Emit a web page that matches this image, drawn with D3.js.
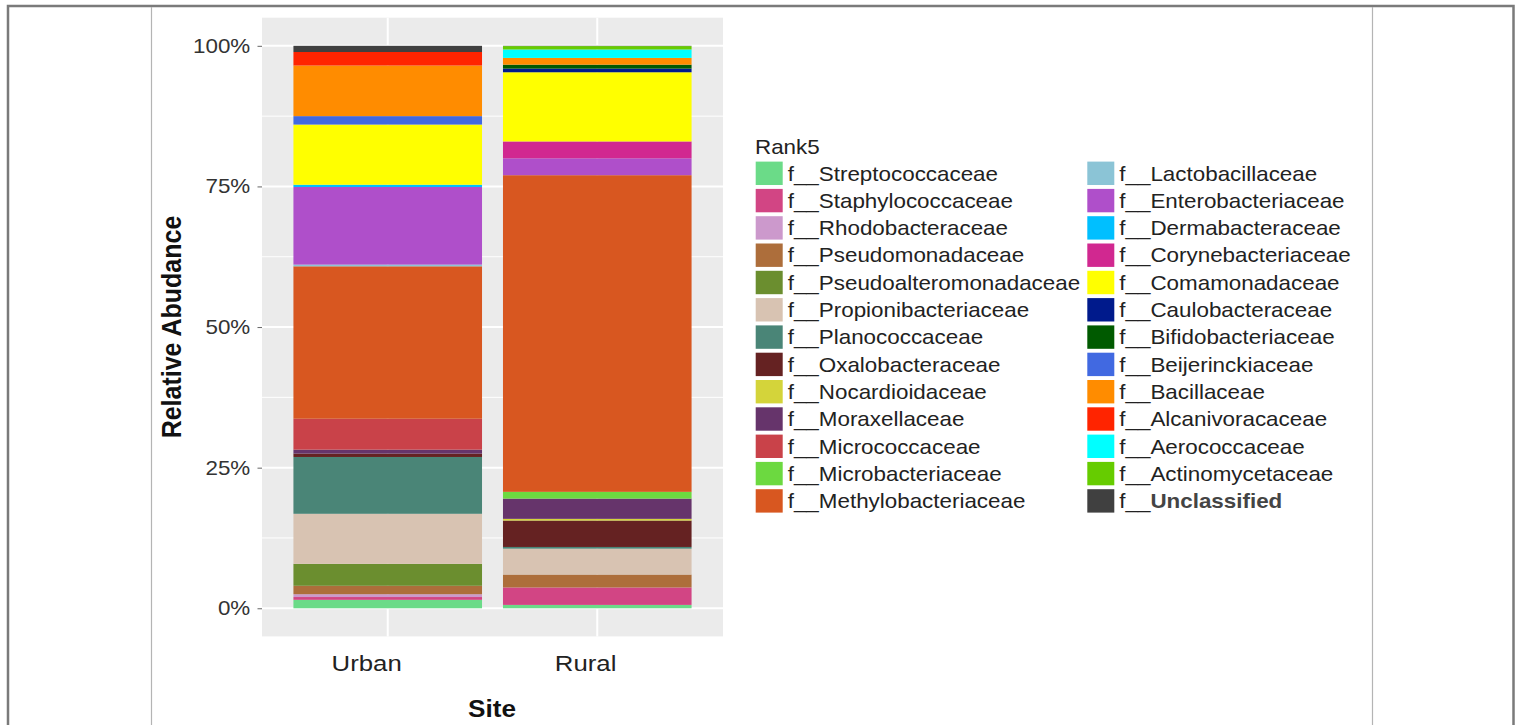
<!DOCTYPE html>
<html>
<head>
<meta charset="utf-8">
<script src="https://cdn.jsdelivr.net/npm/d3@7"></script>
<style>
  html, body { margin: 0; padding: 0; background: #fff; }
  svg { display: block; font-family: "Liberation Sans", Arial, sans-serif; }
</style>
</head>
<body>
<script>
// values, percent of each site, bottom to top
const families = [
  "Streptococcaceae", "Staphylococcaceae", "Rhodobacteraceae", "Pseudomonadaceae",
  "Pseudoalteromonadaceae", "Propionibacteriaceae", "Planococcaceae", "Oxalobacteraceae",
  "Nocardioidaceae", "Moraxellaceae", "Micrococcaceae", "Microbacteriaceae",
  "Methylobacteriaceae", "Lactobacillaceae", "Enterobacteriaceae", "Dermabacteraceae",
  "Corynebacteriaceae", "Comamonadaceae", "Caulobacteraceae", "Bifidobacteriaceae",
  "Beijerinckiaceae", "Bacillaceae", "Alcanivoracaceae", "Aerococcaceae",
  "Actinomycetaceae", "Unclassified"
];
const familyColors = [
  "#6bdb88", "#d24584", "#cc99cc", "#ad6e3b",
  "#6b8e2f", "#d8c3b2", "#4a8577", "#652222",
  "#d4d43a", "#66346b", "#c94249", "#6cd940",
  "#d85720", "#8bc4d6", "#af4fca", "#00bfff",
  "#d12890", "#ffff00", "#001a8c", "#005a00",
  "#4169e1", "#ff8c00", "#ff2400", "#00ffff",
  "#66cc00", "#404040"
];
const sites = ["Urban", "Rural"];
const urbanValues = [
  1.5, 0.5, 0.5, 1.5, 3.9, 8.9, 10.1, 0.6, 0, 0.7, 5.5, 0,
  27.1, 0.3, 13.8, 0.4, 0, 10.7, 0, 0, 1.5, 9.0, 2.4, 0, 0, 1.1
];
const ruralValues = [
  0.6, 3.1, 0, 2.3, 0, 4.6, 0.3, 4.7, 0.3, 3.6, 0, 1.2,
  56.3, 0, 3.0, 0, 3.0, 12.3, 0.65, 0.7, 0, 1.2, 0, 1.5, 0.6, 0.05
];
const yTicks = [0, 0.25, 0.5, 0.75, 1];
const yMinor = [0.125, 0.375, 0.625, 0.875];

const W = 1515, H = 725;
const panel = { left: 262, right: 723, top: 17.7, bottom: 636.4 };
const stretch = 1.12;   // the source picture is a bit wider than tall
const siteLabelShift = { Urban: -18.8, Rural: -10.4 };  // labels sit left of the bars in the source

const svg = d3.select("body").append("svg")
  .attr("width", W)
  .attr("height", H);

// page frame
svg.append("rect")
  .attr("x", 8).attr("y", 6)
  .attr("width", 1505.5).attr("height", H + 10)
  .attr("fill", "none")
  .attr("stroke", "#7a7a7a")
  .attr("stroke-width", 2.5);
[151.5, 1372.5].forEach(x => {
  svg.append("line")
    .attr("x1", x).attr("x2", x)
    .attr("y1", 7).attr("y2", H)
    .attr("stroke", "#b4b4b4")
    .attr("stroke-width", 1.2);
});

const rows = sites.map((s, i) => {
  const vals = i === 0 ? urbanValues : ruralValues;
  const r = { site: s };
  families.forEach((f, j) => r[f] = vals[j] / 100);
  return r;
});

const x = d3.scaleBand()
  .domain(sites)
  .range([panel.left, panel.right])
  .paddingInner(0.1)
  .paddingOuter(0.15);

const y = d3.scaleLinear()
  .domain([-0.05, 1.05])
  .range([panel.bottom, panel.top]);

const color = d3.scaleOrdinal()
  .domain(families)
  .range(familyColors);

// panel
svg.append("rect")
  .attr("x", panel.left).attr("y", panel.top)
  .attr("width", panel.right - panel.left)
  .attr("height", panel.bottom - panel.top)
  .attr("fill", "#ebebeb");

const grid = svg.append("g");
grid.selectAll("line.minor")
  .data(yMinor)
  .enter().append("line")
  .attr("class", "minor")
  .attr("x1", panel.left).attr("x2", panel.right)
  .attr("y1", d => y(d)).attr("y2", d => y(d))
  .attr("stroke", "#fff").attr("stroke-width", 1);
grid.selectAll("line.major")
  .data(yTicks)
  .enter().append("line")
  .attr("class", "major")
  .attr("x1", panel.left).attr("x2", panel.right)
  .attr("y1", d => y(d)).attr("y2", d => y(d))
  .attr("stroke", "#fff").attr("stroke-width", 2);
grid.selectAll("line.vmajor")
  .data(sites)
  .enter().append("line")
  .attr("class", "vmajor")
  .attr("x1", d => x(d) + x.bandwidth() / 2).attr("x2", d => x(d) + x.bandwidth() / 2)
  .attr("y1", panel.top).attr("y2", panel.bottom)
  .attr("stroke", "#fff").attr("stroke-width", 2);

// stacked bars
const series = d3.stack().keys(families)(rows);

svg.append("g")
  .selectAll("g")
  .data(series)
  .enter().append("g")
  .attr("fill", d => color(d.key))
  .selectAll("rect")
  .data(d => d)
  .enter().append("rect")
  .attr("x", d => x(d.data.site))
  .attr("width", x.bandwidth())
  .attr("y", d => y(d[1]))
  .attr("height", d => Math.max(0, y(d[0]) - y(d[1])));

// axes
const yAxis = svg.append("g")
  .attr("transform", `translate(${panel.left},0)`)
  .call(d3.axisLeft(y).tickValues(yTicks).tickFormat(d3.format(".0%")).tickSize(4.5).tickPadding(6));
yAxis.select(".domain").remove();
yAxis.selectAll(".tick line").attr("stroke", "#666");
yAxis.selectAll(".tick text")
  .attr("font-size", 20)
  .attr("fill", "#333")
  .attr("transform", `scale(${stretch},1)`);

const xAxis = svg.append("g")
  .attr("transform", `translate(0,${panel.bottom})`)
  .call(d3.axisBottom(x).tickSize(0).tickPadding(18));
xAxis.select(".domain").remove();
xAxis.selectAll(".tick text")
  .attr("font-size", 23)
  .attr("fill", "#222")
  .attr("dx", d => siteLabelShift[d])
  .attr("transform", `scale(${stretch},1)`);

// axis titles
svg.append("text")
  .attr("transform", `translate(492,716.5) scale(1.09,1)`)
  .attr("text-anchor", "middle")
  .attr("font-size", 24)
  .attr("font-weight", "bold")
  .attr("fill", "#111")
  .text("Site");

svg.append("text")
  .attr("transform", `translate(181,327) rotate(-90) scale(1,1.1)`)
  .attr("text-anchor", "middle")
  .attr("font-size", 25)
  .attr("font-weight", "bold")
  .attr("fill", "#111")
  .text("Relative Abudance");

// legend
const legend = svg.append("g");
legend.append("text")
  .attr("transform", `translate(755,154) scale(${stretch},1)`)
  .attr("font-size", 20)
  .attr("fill", "#222")
  .text("Rank5");

const perCol = 13, rowStep = 27.3, firstRow = 173.3;
const colX = [755.7, 1087.3];

const item = legend.selectAll("g.item")
  .data(families)
  .enter().append("g")
  .attr("class", "item")
  .attr("transform", (d, i) =>
    `translate(${colX[Math.floor(i / perCol)]},${firstRow + (i % perCol) * rowStep})`);

item.append("rect")
  .attr("x", 0).attr("y", -11.7)
  .attr("width", 27).attr("height", 23.4)
  .attr("fill", d => color(d));

const label = item.append("text")
  .attr("transform", `translate(32,0) scale(${stretch},1)`)
  .attr("dy", "0.36em")
  .attr("font-size", 20)
  .attr("fill", "#222");
label.append("tspan").text("f__");
label.append("tspan")
  .attr("font-weight", d => d === "Unclassified" ? "bold" : null)
  .attr("fill", d => d === "Unclassified" ? "#444" : null)
  .text(d => d);
</script>
</body>
</html>
